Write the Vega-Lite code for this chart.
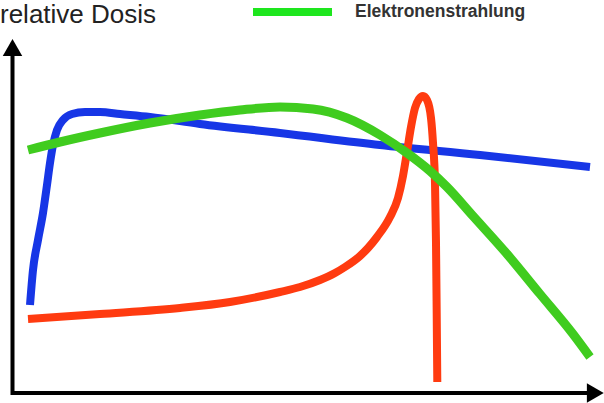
{
  "$schema": "https://vega.github.io/schema/vega-lite/v6.json",
  "width": 604,
  "height": 403,
  "padding": 0,
  "autosize": {"type": "fit", "contains": "padding"},
  "background": "white",
  "config": {
    "view": {"stroke": null},
    "font": "Liberation Sans"
  },
  "datasets": {
    "curves": [
      {"series": "Photonen", "i": 1, "depth": 30, "dose": 98},
      {"series": "Photonen", "i": 2, "depth": 33, "dose": 133},
      {"series": "Photonen", "i": 3, "depth": 38, "dose": 163},
      {"series": "Photonen", "i": 4, "depth": 43, "dose": 190},
      {"series": "Photonen", "i": 5, "depth": 47, "dose": 218},
      {"series": "Photonen", "i": 6, "depth": 50, "dose": 240},
      {"series": "Photonen", "i": 7, "depth": 53, "dose": 258},
      {"series": "Photonen", "i": 8, "depth": 57, "dose": 273},
      {"series": "Photonen", "i": 9, "depth": 63, "dose": 283},
      {"series": "Photonen", "i": 10, "depth": 72, "dose": 289},
      {"series": "Photonen", "i": 11, "depth": 85, "dose": 291},
      {"series": "Photonen", "i": 12, "depth": 100, "dose": 291},
      {"series": "Photonen", "i": 13, "depth": 120, "dose": 289},
      {"series": "Photonen", "i": 14, "depth": 150, "dose": 286},
      {"series": "Photonen", "i": 15, "depth": 200, "dose": 279},
      {"series": "Photonen", "i": 16, "depth": 280, "dose": 270},
      {"series": "Photonen", "i": 17, "depth": 380, "dose": 258},
      {"series": "Photonen", "i": 18, "depth": 480, "dose": 248},
      {"series": "Photonen", "i": 19, "depth": 590, "dose": 236},

      {"series": "Protonen", "i": 1, "depth": 28, "dose": 84},
      {"series": "Protonen", "i": 2, "depth": 100, "dose": 89},
      {"series": "Protonen", "i": 3, "depth": 180, "dose": 95},
      {"series": "Protonen", "i": 4, "depth": 230, "dose": 101},
      {"series": "Protonen", "i": 5, "depth": 280, "dose": 111},
      {"series": "Protonen", "i": 6, "depth": 300, "dose": 116},
      {"series": "Protonen", "i": 7, "depth": 320, "dose": 123},
      {"series": "Protonen", "i": 8, "depth": 335, "dose": 130},
      {"series": "Protonen", "i": 9, "depth": 345, "dose": 136},
      {"series": "Protonen", "i": 10, "depth": 360, "dose": 147},
      {"series": "Protonen", "i": 11, "depth": 368, "dose": 155},
      {"series": "Protonen", "i": 12, "depth": 377, "dose": 166},
      {"series": "Protonen", "i": 13, "depth": 390, "dose": 186},
      {"series": "Protonen", "i": 14, "depth": 398, "dose": 205},
      {"series": "Protonen", "i": 15, "depth": 403, "dose": 227},
      {"series": "Protonen", "i": 16, "depth": 407, "dose": 251},
      {"series": "Protonen", "i": 17, "depth": 411, "dose": 276},
      {"series": "Protonen", "i": 18, "depth": 415, "dose": 295},
      {"series": "Protonen", "i": 19, "depth": 419, "dose": 304},
      {"series": "Protonen", "i": 20, "depth": 423, "dose": 307},
      {"series": "Protonen", "i": 21, "depth": 427, "dose": 303},
      {"series": "Protonen", "i": 22, "depth": 431, "dose": 285},
      {"series": "Protonen", "i": 23, "depth": 433, "dose": 260},
      {"series": "Protonen", "i": 24, "depth": 435, "dose": 220},
      {"series": "Protonen", "i": 25, "depth": 436, "dose": 160},
      {"series": "Protonen", "i": 26, "depth": 436.7, "dose": 90},
      {"series": "Protonen", "i": 27, "depth": 437.3, "dose": 21},

      {"series": "Elektronen", "i": 1, "depth": 28, "dose": 253},
      {"series": "Elektronen", "i": 2, "depth": 60, "dose": 261},
      {"series": "Elektronen", "i": 3, "depth": 100, "dose": 270},
      {"series": "Elektronen", "i": 4, "depth": 150, "dose": 280},
      {"series": "Elektronen", "i": 5, "depth": 200, "dose": 288},
      {"series": "Elektronen", "i": 6, "depth": 240, "dose": 293},
      {"series": "Elektronen", "i": 7, "depth": 280, "dose": 296},
      {"series": "Elektronen", "i": 8, "depth": 313, "dose": 294},
      {"series": "Elektronen", "i": 9, "depth": 347, "dose": 285},
      {"series": "Elektronen", "i": 10, "depth": 380, "dose": 268},
      {"series": "Elektronen", "i": 11, "depth": 407, "dose": 250},
      {"series": "Elektronen", "i": 12, "depth": 430, "dose": 232},
      {"series": "Elektronen", "i": 13, "depth": 447, "dose": 216},
      {"series": "Elektronen", "i": 14, "depth": 473, "dose": 187},
      {"series": "Elektronen", "i": 15, "depth": 507, "dose": 149},
      {"series": "Elektronen", "i": 16, "depth": 540, "dose": 109},
      {"series": "Elektronen", "i": 17, "depth": 573, "dose": 69},
      {"series": "Elektronen", "i": 18, "depth": 590, "dose": 46}
    ],
    "axes": [
      {"depth": 12.5, "dose": 8, "depth2": 12.5, "dose2": 352},
      {"depth": 11, "dose": 10, "depth2": 590, "dose2": 10}
    ],
    "arrows": [
      {"depth": 12.5, "dose": 355.5, "shape": "triangle-up"},
      {"depth": 595.3, "dose": 10, "shape": "triangle-right"}
    ]
  },
  "layer": [
    {
      "data": {"name": "axes"},
      "mark": {"type": "rule", "color": "black", "strokeWidth": 4},
      "encoding": {
        "x": {"field": "depth", "type": "quantitative", "scale": {"domain": [0, 604], "nice": false, "zero": false}, "axis": null},
        "y": {"field": "dose", "type": "quantitative", "scale": {"domain": [0, 403], "nice": false, "zero": false}, "axis": null},
        "x2": {"field": "depth2"},
        "y2": {"field": "dose2"}
      }
    },
    {
      "data": {"name": "arrows"},
      "mark": {"type": "point", "filled": true, "color": "black", "size": 380, "opacity": 1, "strokeWidth": 0},
      "encoding": {
        "x": {"field": "depth", "type": "quantitative"},
        "y": {"field": "dose", "type": "quantitative"},
        "shape": {"field": "shape", "type": "nominal", "scale": null, "legend": null}
      }
    },
    {
      "data": {"name": "curves"},
      "transform": [{"filter": "datum.series == 'Photonen'"}],
      "mark": {"type": "line", "interpolate": "monotone", "strokeWidth": 8, "color": "#1736e6", "strokeJoin": "round"},
      "encoding": {
        "x": {"field": "depth", "type": "quantitative"},
        "y": {"field": "dose", "type": "quantitative"},
        "order": {"field": "i", "type": "quantitative"}
      }
    },
    {
      "data": {"name": "curves"},
      "transform": [{"filter": "datum.series == 'Protonen'"}],
      "mark": {"type": "line", "interpolate": "monotone", "strokeWidth": 8, "color": "#ff3b10", "strokeJoin": "round"},
      "encoding": {
        "x": {"field": "depth", "type": "quantitative"},
        "y": {"field": "dose", "type": "quantitative"},
        "order": {"field": "i", "type": "quantitative"}
      }
    },
    {
      "data": {"name": "curves"},
      "transform": [{"filter": "datum.series == 'Elektronen'"}],
      "mark": {"type": "line", "interpolate": "monotone", "strokeWidth": 9, "color": "#40cc1f", "strokeJoin": "round"},
      "encoding": {
        "x": {"field": "depth", "type": "quantitative"},
        "y": {"field": "dose", "type": "quantitative"},
        "order": {"field": "i", "type": "quantitative"}
      }
    },
    {
      "data": {"values": [{"depth": 253, "dose": 391, "depth2": 332}]},
      "mark": {"type": "rule", "color": "#1ee61e", "strokeWidth": 8},
      "encoding": {
        "x": {"field": "depth", "type": "quantitative"},
        "x2": {"field": "depth2"},
        "y": {"field": "dose", "type": "quantitative"}
      }
    },
    {
      "data": {"values": [{"depth": 355, "dose": 386, "label": "Elektronenstrahlung"}]},
      "mark": {"type": "text", "align": "left", "baseline": "alphabetic", "fontSize": 17.5, "fontWeight": "bold", "color": "#333333", "font": "Liberation Sans"},
      "encoding": {
        "x": {"field": "depth", "type": "quantitative"},
        "y": {"field": "dose", "type": "quantitative"},
        "text": {"field": "label"}
      }
    },
    {
      "data": {"values": [{"depth": 0, "dose": 380, "label": "relative Dosis"}]},
      "mark": {"type": "text", "align": "left", "baseline": "alphabetic", "fontSize": 26, "color": "#222222", "font": "Liberation Sans"},
      "encoding": {
        "x": {"field": "depth", "type": "quantitative"},
        "y": {"field": "dose", "type": "quantitative"},
        "text": {"field": "label"}
      }
    }
  ]
}
